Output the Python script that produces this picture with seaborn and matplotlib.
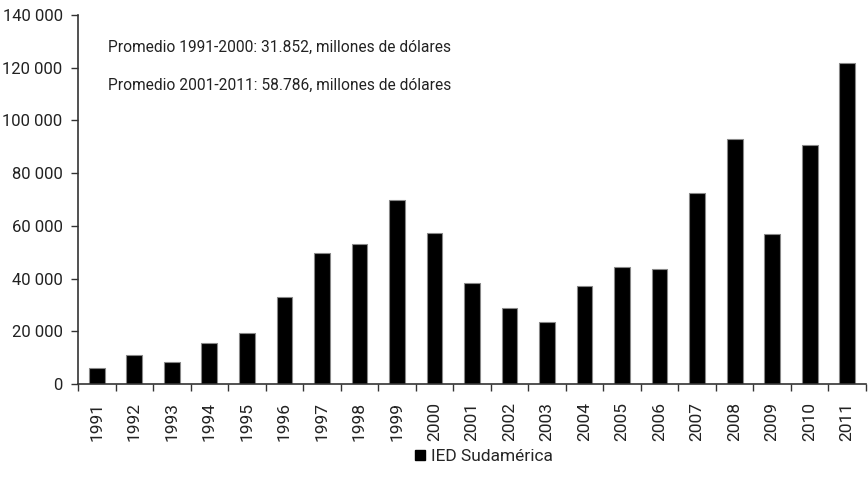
import matplotlib
matplotlib.use("Agg")
import matplotlib.pyplot as plt
import seaborn as sns
import pandas as pd
from matplotlib.ticker import FuncFormatter, FixedLocator
from matplotlib.lines import Line2D

years = [str(y) for y in range(1991, 2012)]
ied = [6200, 10900, 8500, 15600, 19300, 32900, 49600, 53200, 69900, 57400,
       38200, 28700, 23400, 37200, 44300, 43700, 72300, 93000, 56800, 90600, 121800]
notes = ["Promedio 1991-2000: 31.852, millones de dólares",
         "Promedio 2001-2011: 58.786, millones de dólares"]
series_label = "IED Sudamérica"

sns.set_theme(style="white")
plt.rcParams["font.family"] = ["Roboto", "DejaVu Sans"]

df = pd.DataFrame({"year": years, "value": ied})

fig = plt.figure(figsize=(8.68, 4.87), dpi=100)
ax = fig.add_axes([78/868, 1-384/487, 788/868, 369/487])
sns.barplot(data=df, x="year", y="value", color="black", width=0.42,
            edgecolor="#888888", linewidth=0.8, saturation=1, ax=ax)
ax.set_xlim(-0.5, len(years)-0.5)
ax.set_ylim(0, 140000)
ax.set_yticks(range(0, 140001, 20000))
ax.yaxis.set_major_formatter(FuncFormatter(lambda v, p: f"{int(v):,}".replace(",", " ")))
ax.set_xlabel("")
ax.set_ylabel("")
for s in ["top", "right"]:
    ax.spines[s].set_visible(False)
for s in ["left", "bottom"]:
    ax.spines[s].set_color("#333333")
    ax.spines[s].set_linewidth(1.2)
ax.tick_params(axis="y", which="major", left=True, length=5, width=1, color="#333333",
               labelsize=12, pad=6, labelcolor="#222222")
ax.tick_params(axis="x", which="major", bottom=False, labelsize=12.5, labelrotation=90,
               pad=7, labelcolor="#222222")
ax.xaxis.set_minor_locator(FixedLocator([i + 0.5 for i in range(-1, len(years))]))
ax.tick_params(axis="x", which="minor", bottom=True, length=5, width=1, color="#333333")

fig.text(108/868, 1-47/487, notes[0], fontsize=11.2, va="center", ha="left", color="#222222")
fig.text(108/868, 1-85/487, notes[1], fontsize=11.2, va="center", ha="left", color="#222222")

handle = Line2D([], [], marker="s", linestyle="none", color="black", markersize=7)
fig.legend([handle], [series_label], loc="center", bbox_to_anchor=(483/868, 1-456/487),
           frameon=False, fontsize=12.5, handletextpad=0.2, handlelength=0.8)

fig.savefig("out.png", dpi=100)
